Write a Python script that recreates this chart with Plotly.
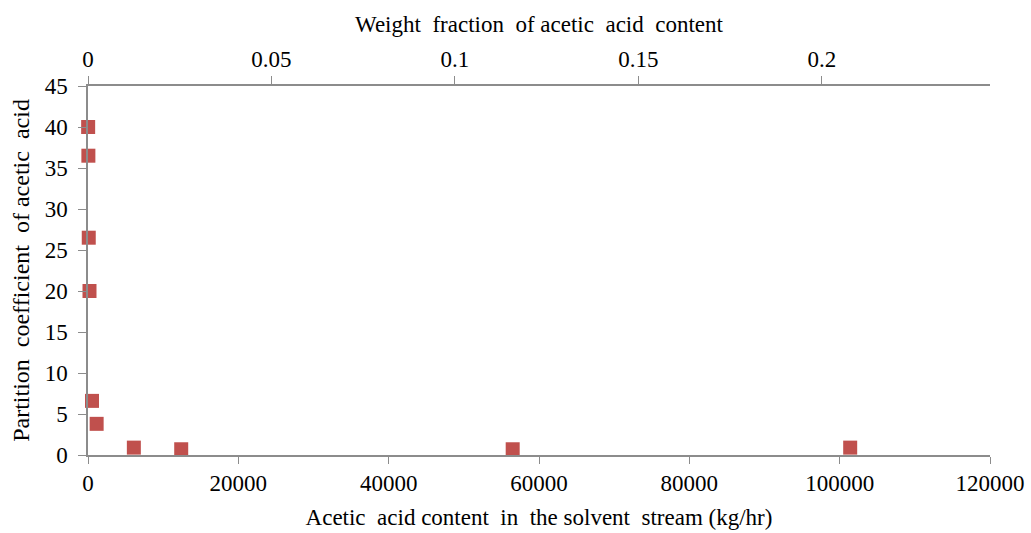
import plotly.graph_objects as go

# Acetic acid flow in the solvent stream (kg/hr) and its partition coefficient
acid_flow = [20, 50, 100, 200, 530, 1150, 6100, 12400, 56500, 101400]
partition_coef = [40.0, 36.5, 26.5, 20.0, 6.6, 3.8, 0.9, 0.7, 0.7, 0.9]

# Secondary (top) axis: weight fraction of acetic acid
frac_ticks = [0, 0.05, 0.1, 0.15, 0.2]
frac_labels = ["0", "0.05", "0.1", "0.15", "0.2"]
frac_max = 0.2458

bottom_ticks = [0, 20000, 40000, 60000, 80000, 100000, 120000]
y_ticks = [0, 5, 10, 15, 20, 25, 30, 35, 40, 45]

FONT = "'Times New Roman', 'Liberation Serif', 'DejaVu Serif', serif"
AXIS_GREY = "#8c8c8c"

fig = go.Figure()
fig.add_trace(go.Scatter(
    x=acid_flow, y=partition_coef, mode="markers",
    marker=dict(symbol="square", size=14, color="#C0504D"),
    cliponaxis=False, showlegend=False,
))
# invisible trace so the top axis is laid out
fig.add_trace(go.Scatter(
    x=[0, frac_max], y=[None, None], xaxis="x2", mode="markers",
    marker=dict(opacity=0), showlegend=False, hoverinfo="skip",
))

fig.update_layout(
    width=1031, height=533,
    margin=dict(l=88, r=41, t=86, b=78),
    paper_bgcolor="white", plot_bgcolor="white",
    font=dict(family=FONT, size=23, color="black"),
    xaxis=dict(
        range=[0, 120000], tickvals=bottom_ticks, tickformat="d",
        showline=True, linecolor=AXIS_GREY, linewidth=1.5,
        ticks="outside", ticklen=7, tickcolor=AXIS_GREY,
        showgrid=False, zeroline=False, automargin=False,
        title=dict(text="Acetic  acid content  in  the solvent  stream (kg/hr)",
                   standoff=14, font=dict(size=23)),
    ),
    xaxis2=dict(
        overlaying="x", side="top", range=[0, frac_max],
        tickvals=frac_ticks, ticktext=frac_labels,
        showline=True, linecolor=AXIS_GREY, linewidth=1.5,
        ticks="outside", ticklen=8, tickcolor=AXIS_GREY,
        showgrid=False, zeroline=False, automargin=False,
        title=dict(text="Weight  fraction  of acetic  acid  content",
                   standoff=8, font=dict(size=23)),
    ),
    yaxis=dict(
        range=[0, 45], tickvals=y_ticks,
        showline=True, linecolor=AXIS_GREY, linewidth=1.5,
        ticks="outside", ticklen=8, tickcolor=AXIS_GREY, ticklabelstandoff=6,
        showgrid=False, zeroline=False, automargin=False,
        title=dict(text="Partition  coefficient  of acetic  acid",
                   standoff=8, font=dict(size=24)),
    ),
)

fig.write_html("out.html")
